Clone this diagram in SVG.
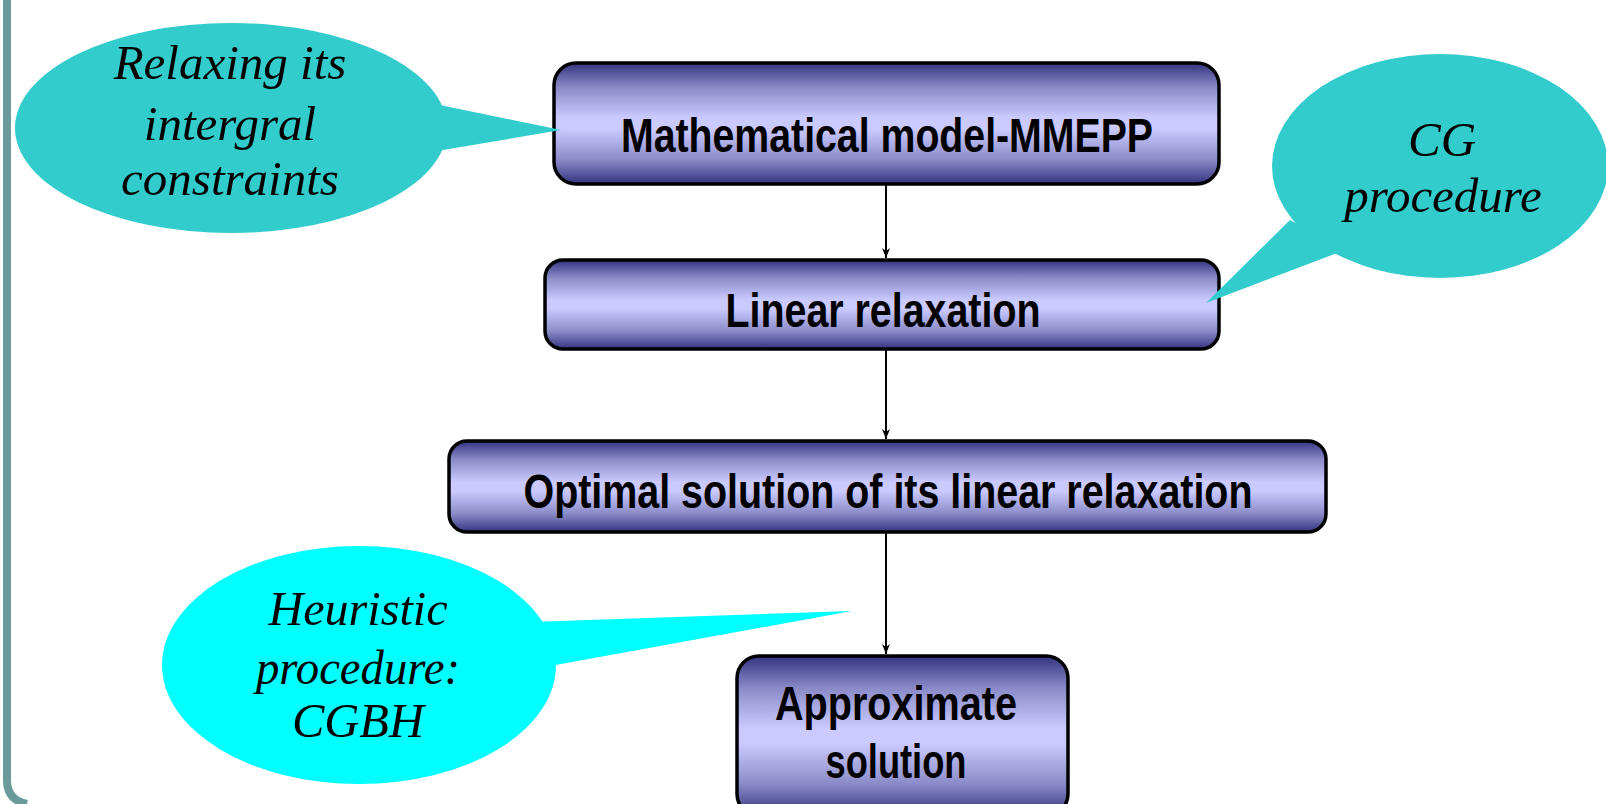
<svg xmlns="http://www.w3.org/2000/svg" width="1606" height="804" viewBox="0 0 1606 804">
<defs>
<linearGradient id="boxg" x1="0" y1="0" x2="0" y2="1">
<stop offset="0" stop-color="#333380"/>
<stop offset="0.2" stop-color="#8a8ac8"/>
<stop offset="0.45" stop-color="#cacaff"/>
<stop offset="0.55" stop-color="#cacaff"/>
<stop offset="0.8" stop-color="#8a8ac8"/>
<stop offset="1" stop-color="#333380"/>
</linearGradient>
<marker id="arr" viewBox="0 0 10 10" refX="10" refY="5" markerWidth="10" markerHeight="10" markerUnits="userSpaceOnUse" orient="auto">
<path d="M0,1 L10,5 L0,9 L3,5 Z" fill="#000"/>
</marker>
<style>
.box{fill:url(#boxg);stroke:#000;stroke-width:3.5}
.bt{font-family:"Liberation Sans Narrow","Liberation Sans",Arial,sans-serif;font-weight:bold;font-size:48px;fill:#000;text-anchor:middle}
.ct{font-family:"Liberation Serif","DejaVu Serif",serif;font-style:italic;font-size:49px;fill:#000;text-anchor:middle}
.conn{stroke:#000;stroke-width:2;fill:none;marker-end:url(#arr)}
</style>
</defs>
<rect x="0" y="0" width="1606" height="804" fill="#fff"/>
<path d="M7,0 L7,780 Q7,800 27,804" fill="none" stroke="#6a9a9a" stroke-width="8"/>

<g id="connectors">
<line class="conn" x1="886" y1="185" x2="886" y2="258"/>
<line class="conn" x1="886" y1="349" x2="886" y2="439"/>
<line class="conn" x1="886" y1="533" x2="886" y2="654"/>
</g>

<g id="node-model">
<rect class="box" x="554" y="63" width="665" height="121" rx="22"/>
<text class="bt" x="887" y="152" textLength="532" lengthAdjust="spacingAndGlyphs">Mathematical model-MMEPP</text>
</g>
<g id="node-linear">
<rect class="box" x="545" y="260" width="674" height="89" rx="18"/>
<text class="bt" x="883" y="327" textLength="315" lengthAdjust="spacingAndGlyphs">Linear relaxation</text>
</g>
<g id="node-optimal">
<rect class="box" x="449" y="441" width="877" height="91" rx="18"/>
<text class="bt" x="888" y="508" textLength="729" lengthAdjust="spacingAndGlyphs">Optimal solution of its linear relaxation</text>
</g>
<g id="node-approx">
<rect class="box" x="737" y="656" width="331" height="160" rx="22"/>
<text class="bt" x="896" y="720" textLength="242" lengthAdjust="spacingAndGlyphs">Approximate</text>
<text class="bt" x="896" y="778" textLength="141" lengthAdjust="spacingAndGlyphs">solution</text>
</g>

<g id="callout-relax">
<ellipse cx="231" cy="128" rx="216" ry="105" fill="#33cccc"/>
<path d="M430,103 L561,130 L425,153 Z" fill="#33cccc"/>
<text class="ct" x="230" y="79">Relaxing its</text>
<text class="ct" x="230" y="140">intergral</text>
<text class="ct" x="230" y="195">constraints</text>
</g>
<g id="callout-cg">
<ellipse cx="1440" cy="166" rx="168" ry="112" fill="#33cccc"/>
<path d="M1290,220 L1206,303 L1345,250 Z" fill="#33cccc"/>
<text class="ct" x="1442" y="156">CG</text>
<text class="ct" x="1443" y="212">procedure</text>
</g>
<g id="callout-heuristic">
<ellipse cx="359" cy="665" rx="197" ry="119" fill="#00ffff"/>
<path d="M530,622 L852,611 L550,666 Z" fill="#00ffff"/>
<text class="ct" x="358" y="625" textLength="179" lengthAdjust="spacingAndGlyphs">Heuristic</text>
<text class="ct" x="358" y="684" textLength="204" lengthAdjust="spacingAndGlyphs">procedure:</text>
<text class="ct" x="358" y="737" textLength="132" lengthAdjust="spacingAndGlyphs">CGBH</text>
</g>
</svg>
